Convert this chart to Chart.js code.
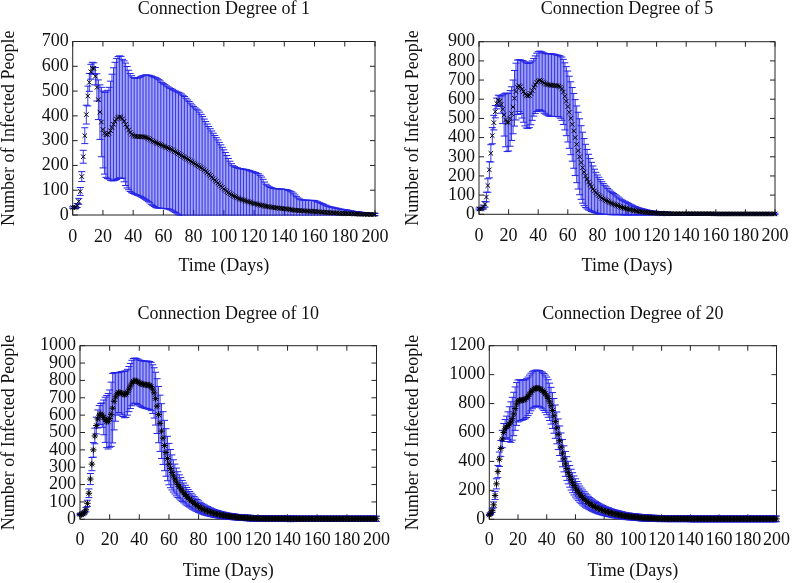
<!DOCTYPE html>
<html>
<head>
<meta charset="utf-8">
<script src="https://cdn.jsdelivr.net/npm/chart.js@4.4.1/dist/chart.umd.min.js"></script>
<style>
  body { margin: 0; background: #fff; width: 800px; height: 583px; position: relative; overflow: hidden; }
  canvas { position: absolute; }
</style>
</head>
<body>
<canvas id="deg1" width="400" height="290" style="left:0;top:0"></canvas>
<canvas id="deg5" width="400" height="290" style="left:400px;top:0"></canvas>
<canvas id="deg10" width="400" height="293" style="left:0;top:290px"></canvas>
<canvas id="deg20" width="400" height="293" style="left:400px;top:290px"></canvas>
<script>
// days 0..200, one sample per day
const days = Array.from({length: 201}, (_, i) => i)
const xTicks = [0, 20, 40, 60, 80, 100, 120, 140, 160, 180, 200]

// mean number of infected people and its standard deviation, per day
const mean1 = [
  30,30,31,38,55,95,155,235,320,405,
  480,535,578,592,592,560,515,465,415,375,
  345,330,324,325,330,340,353,366,378,387,
  393,396,394,388,378,366,354,343,333,326,
  321,318,317,316,316,316,316,315,314,312,
  309,306,302,298,295,292,289,287,284,281,
  278,276,273,271,268,265,262,258,255,251,
  248,244,240,236,233,229,225,222,218,214,
  210,206,202,199,195,191,187,182,177,171,
  165,159,153,147,141,135,129,123,117,111,
  105,100,95,90,86,82,78,75,72,69,
  66,64,62,60,58,56,54,52,50,48,
  46,45,43,42,40,39,38,36,35,34,
  33,32,31,30,29,29,28,27,27,26,
  25,25,24,23,22,21,20,19,19,18,
  18,17,17,16,16,16,15,15,15,15,
  14,14,13,13,12,12,11,11,10,10,
  9,9,9,8,8,8,7,7,7,6,
  6,6,5,5,5,5,4,4,4,4,
  3,3,3,3,3,2,2,2,2,2,
  2]
const err1 = [
  3,4,5,8,12,16,20,26,32,38,
  40,36,30,24,22,35,55,80,110,140,
  155,165,172,178,185,200,215,228,238,244,
  246,246,246,240,244,247,245,241,238,236,
  234,234,235,237,239,242,245,248,251,253,
  255,257,259,260,261,262,261,259,257,254,
  252,250,248,246,245,245,245,245,245,246,
  247,248,248,247,245,242,239,236,233,230,
  228,226,225,224,220,215,210,205,200,196,
  192,189,186,183,180,177,174,170,166,162,
  158,152,145,138,131,125,121,120,120,121,
  122,123,124,125,126,127,127,127,127,127,
  127,126,125,124,120,114,106,97,89,84,
  81,79,78,77,77,77,77,78,78,78,
  78,78,77,76,74,72,68,62,56,51,
  47,45,44,44,44,44,44,44,44,44,
  44,42,40,38,36,34,32,29,27,25,
  24,23,22,21,20,19,18,17,16,16,
  15,15,14,13,12,11,10,10,9,9,
  8,8,7,7,6,6,5,5,5,4,
  4]

const mean5 = [
  28,28,30,38,52,90,150,232,318,410,
  478,535,578,595,590,572,548,518,492,479,
  480,500,525,560,605,640,662,671,665,652,
  640,628,620,617,620,630,645,662,676,688,
  695,698,695,690,684,680,677,675,674,673,
  673,672,671,670,668,663,655,638,615,590,
  562,532,501,469,435,400,365,332,300,270,
  243,220,200,183,168,155,143,132,122,113,
  105,98,91,85,80,75,71,67,63,59,
  56,53,50,47,44,41,38,35,33,31,
  29,27,25,23,21,19,18,16,15,14,
  13,12,11,10,9,8,8,7,7,6,
  6,5,5,5,4,4,4,4,4,3,
  3,3,3,3,3,3,3,3,3,3,
  3,3,3,3,3,3,3,3,3,3,
  3,3,3,3,3,3,3,3,3,2,
  2,2,2,2,2,2,2,2,2,2,
  2,2,2,2,2,2,2,2,2,2,
  2,2,2,2,2,2,2,2,2,2,
  2,2,2,2,2,2,2,2,2,2,
  2]
const err5 = [
  5,5,6,10,15,25,35,42,45,42,
  38,32,28,26,28,45,75,110,140,152,
  150,145,140,140,145,148,142,135,140,150,
  160,167,170,170,168,163,155,150,150,152,
  153,153,153,155,157,158,160,162,163,163,
  163,162,161,160,160,162,165,170,175,180,
  185,188,190,192,195,198,200,200,198,192,
  185,175,165,155,145,136,128,120,113,106,
  100,95,90,85,80,76,72,68,64,61,
  58,55,52,49,46,43,40,38,36,34,
  32,30,28,26,24,22,21,19,18,17,
  16,15,14,13,12,11,10,10,9,9,
  8,8,8,8,7,7,7,7,7,7,
  6,6,6,6,6,6,6,6,6,6,
  6,6,6,6,6,6,6,6,6,6,
  5,5,5,5,5,5,5,5,5,5,
  5,5,5,5,5,5,5,5,5,5,
  4,4,4,4,4,4,4,4,4,4,
  4,4,4,4,4,4,4,4,4,4,
  4,4,4,4,4,4,4,4,4,4,
  4]

const mean10 = [
  28,28,30,40,55,92,150,232,318,400,
  480,540,578,600,607,600,587,573,563,565,
  580,605,640,680,705,722,730,730,726,722,
  719,721,732,750,768,785,795,799,797,792,
  786,782,779,777,775,774,773,771,765,750,
  728,695,652,603,553,508,468,425,385,350,
  318,292,270,250,232,215,200,187,175,163,
  152,142,132,123,115,107,99,92,85,79,
  73,67,62,58,54,50,47,44,41,38,
  35,33,31,29,27,25,23,22,20,19,
  18,17,16,15,14,13,12,11,10,10,
  9,9,8,8,7,7,6,6,6,5,
  5,5,5,4,4,4,4,4,4,4,
  4,4,4,4,4,4,4,4,4,4,
  3,3,3,3,3,3,3,3,3,3,
  3,3,3,3,3,3,3,3,3,3,
  3,3,3,3,3,3,3,3,3,3,
  3,3,3,3,3,3,3,3,3,3,
  3,3,3,3,3,3,3,3,3,3,
  3,3,3,3,3,3,3,3,3,3,
  3]
const err10 = [
  5,5,6,8,12,18,25,32,38,42,
  45,48,52,55,60,70,100,130,150,160,
  165,185,200,165,140,122,115,118,124,130,
  134,134,132,130,130,131,131,130,130,131,
  132,133,134,135,136,137,138,138,139,140,
  145,152,158,162,162,158,152,145,137,128,
  119,110,101,93,86,80,74,69,65,61,
  57,54,51,48,45,43,41,39,37,35,
  33,31,30,29,28,27,26,25,24,23,
  22,22,21,21,20,20,19,19,18,18,
  17,17,17,17,17,16,16,16,16,16,
  16,16,16,16,16,16,16,16,16,16,
  16,16,16,16,16,16,16,16,16,16,
  16,16,16,16,16,16,16,16,16,16,
  16,16,16,16,16,15,15,15,15,15,
  15,15,15,15,15,15,15,15,15,15,
  15,15,15,15,15,15,15,15,15,15,
  15,15,15,15,15,15,15,15,15,15,
  15,15,15,15,15,15,15,15,15,15,
  15,15,15,15,15,15,15,15,15,15,
  15]

const mean20 = [
  30,40,60,100,165,245,330,415,490,555,
  600,625,638,648,658,672,695,728,765,797,
  818,822,822,824,826,830,838,850,865,880,
  892,900,905,907,906,903,897,890,880,868,
  853,835,812,785,752,715,675,632,588,543,
  499,457,418,383,351,323,297,274,253,234,
  217,201,187,174,162,151,141,132,123,115,
  108,101,95,89,84,79,74,70,66,62,
  58,55,52,49,46,43,40,38,36,34,
  32,30,28,26,24,22,21,20,19,18,
  17,16,15,14,13,12,11,10,10,9,
  9,8,8,7,7,6,6,6,5,5,
  5,5,4,4,4,4,4,4,4,4,
  4,4,4,4,4,4,4,4,4,4,
  3,3,3,3,3,3,3,3,3,3,
  3,3,3,3,3,3,3,3,3,3,
  3,3,3,3,3,3,3,3,3,3,
  3,3,3,3,3,3,3,3,3,3,
  3,3,3,3,3,3,3,3,3,3,
  3,3,3,3,3,3,3,3,3,3,
  3]
const err20 = [
  5,8,12,20,28,35,42,50,55,60,
  62,65,75,95,120,140,148,150,150,148,
  145,142,140,138,136,135,134,133,132,130,
  128,126,125,124,124,125,126,127,128,129,
  130,130,129,127,124,120,115,110,106,102,
  98,94,90,86,82,78,75,72,69,66,
  63,60,58,56,54,52,50,48,46,44,
  42,41,40,39,38,37,36,35,34,33,
  32,31,30,30,29,28,28,27,27,26,
  26,25,25,24,24,24,23,23,23,22,
  22,22,22,22,22,22,22,22,22,22,
  22,22,21,21,21,21,21,21,21,21,
  20,20,20,20,20,20,20,20,20,20,
  20,20,20,20,20,20,20,20,20,20,
  20,20,20,20,20,20,20,20,20,20,
  20,20,20,20,20,20,20,20,20,20,
  20,20,20,20,20,20,20,20,20,20,
  20,20,20,20,20,20,20,20,20,20,
  20,20,20,20,20,20,20,20,20,20,
  20,20,20,20,20,20,20,20,20,20,
  20]

const FONT = 'Liberation Serif, Times New Roman, serif'
const INK = '#111'

// gnuplot style box: full border plus inward ticks on all four sides
const frame = {
  id: 'frame',
  beforeDatasetsDraw(chart) {
    const {ctx, chartArea: a, scales: {x, y}} = chart
    const len = 5
    ctx.save()
    ctx.strokeStyle = '#222'
    ctx.lineWidth = 1
    ctx.strokeRect(a.left, a.top, a.right - a.left, a.bottom - a.top)
    ctx.beginPath()
    x.ticks.forEach(t => {
      const px = x.getPixelForValue(t.value)
      ctx.moveTo(px, a.bottom); ctx.lineTo(px, a.bottom - len)
      ctx.moveTo(px, a.top); ctx.lineTo(px, a.top + len)
    })
    y.ticks.forEach(t => {
      const py = y.getPixelForValue(t.value)
      ctx.moveTo(a.left, py); ctx.lineTo(a.left + len, py)
      ctx.moveTo(a.right, py); ctx.lineTo(a.right - len, py)
    })
    ctx.stroke()
    ctx.restore()
  }
}

function drawPanel(p) {
  const canvas = document.getElementById(p.id)
  const lo = p.mean.map((m, i) => m - p.err[i])
  const hi = p.mean.map((m, i) => m + p.err[i])

  new Chart(canvas, {
    type: 'scatter',
    data: {
      datasets: [
        {
          label: 'mean',
          data: days.map((d, i) => ({x: d, y: p.mean[i]})),
          pointStyle: p.marker,
          radius: 3.2,
          borderWidth: 1,
          borderColor: '#000',
          backgroundColor: '#000',
          clip: {left: 5, right: 5, top: 5, bottom: 4},
          order: 0
        },
        {
          label: 'caps',
          data: days.flatMap((d, i) => [{x: d, y: lo[i]}, {x: d, y: hi[i]}]),
          pointStyle: 'line',
          radius: 3.5,
          borderWidth: 1,
          borderColor: '#2323e6',
          clip: {left: 4, right: 4, top: 2, bottom: p.clipBottom},
          order: 1
        },
        {
          type: 'bar',
          label: 'error',
          data: days.map((d, i) => ({x: d, y: [lo[i], hi[i]]})),
          backgroundColor: 'rgba(30,30,228,0.88)',
          barThickness: 1,
          inflateAmount: 0,
          borderWidth: 0,
          clip: {left: 1, right: 1, top: 1, bottom: p.clipBottom},
          order: 2
        }
      ]
    },
    options: {
      responsive: false,
      animation: false,
      events: [],
      layout: {padding: {left: 0, top: 0, bottom: 0, right: canvas.width - p.area.right}},
      plugins: {
        legend: {display: false},
        tooltip: {enabled: false},
        title: {
          display: true,
          text: p.title,
          fullSize: false,
          color: INK,
          font: {family: FONT, size: 18, weight: 'normal', lineHeight: 1},
          padding: {top: p.titleTop, bottom: p.area.top - p.titleTop - 18}
        }
      },
      scales: {
        x: {
          type: 'linear',
          min: 0,
          max: 200,
          offset: false,
          afterBuildTicks: s => { s.ticks = xTicks.map(v => ({value: v})) },
          afterFit: s => { s.height = canvas.height - p.area.bottom },
          grid: {display: false, drawTicks: false, tickLength: 0},
          border: {display: false},
          ticks: {
            color: INK, padding: p.xTickPad, maxRotation: 0, autoSkip: false,
            font: {family: FONT, size: 18, lineHeight: 1.2},
            callback: v => String(v)
          },
          title: {
            display: true, text: 'Time (Days)', color: INK,
            font: {family: FONT, size: 18, lineHeight: 1.2},
            padding: {top: 0, bottom: p.xTitlePad}
          }
        },
        y: {
          type: 'linear',
          min: 0,
          max: p.yTicks[p.yTicks.length - 1],
          afterBuildTicks: s => { s.ticks = p.yTicks.map(v => ({value: v})) },
          afterFit: s => { s.width = p.area.left },
          grid: {display: false, drawTicks: false, tickLength: 0},
          border: {display: false},
          ticks: {
            color: INK, padding: 4, autoSkip: false,
            font: {family: FONT, size: 18, lineHeight: 1.2},
            callback: v => String(v)
          },
          title: {
            display: true, text: 'Number of Infected People', color: INK,
            font: {family: FONT, size: 18, lineHeight: 1},
            padding: {top: p.yTitlePad, bottom: 0}
          }
        }
      }
    },
    plugins: [frame]
  })
}

const yTicks100 = [0, 100, 200, 300, 400, 500, 600, 700]
const yTicks900 = [0, 100, 200, 300, 400, 500, 600, 700, 800, 900]
const yTicks1000 = [0, 100, 200, 300, 400, 500, 600, 700, 800, 900, 1000]
const yTicks1200 = [0, 200, 400, 600, 800, 1000, 1200]

drawPanel({id: 'deg1', title: 'Connection Degree of 1', mean: mean1, err: err1, yTicks: yTicks100,
  marker: 'crossRot', area: {left: 72.7, right: 377.7, top: 41.5, bottom: 215},
  titleTop: 0, xTickPad: 11.5, xTitlePad: 12.5, yTitlePad: 0, clipBottom: 1})
drawPanel({id: 'deg5', title: 'Connection Degree of 5', mean: mean5, err: err5, yTicks: yTicks900,
  marker: 'crossRot', area: {left: 79, right: 383, top: 41.7, bottom: 214.3},
  titleTop: 0, xTickPad: 11.5, xTitlePad: 12.5, yTitlePad: 4, clipBottom: 3})
drawPanel({id: 'deg10', title: 'Connection Degree of 10', mean: mean10, err: err10, yTicks: yTicks1000,
  marker: 'star', area: {left: 80, right: 377.7, top: 55.7, bottom: 229.3},
  titleTop: 15, xTickPad: 10, xTitlePad: 0.5, yTitlePad: 0, clipBottom: 4})
drawPanel({id: 'deg20', title: 'Connection Degree of 20', mean: mean20, err: err20, yTicks: yTicks1200,
  marker: 'star', area: {left: 89.3, right: 383.3, top: 55.7, bottom: 229.3},
  titleTop: 15, xTickPad: 10, xTitlePad: 0.5, yTitlePad: 4, clipBottom: 4})
</script>
</body>
</html>
